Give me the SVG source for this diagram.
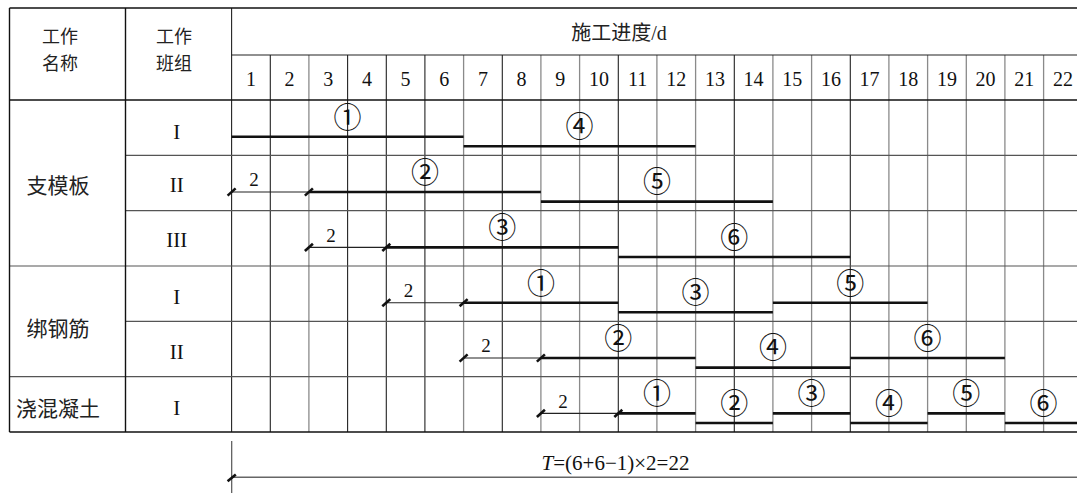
<svg xmlns="http://www.w3.org/2000/svg" width="1077" height="493" viewBox="0 0 1077 493">
<style>
.bd{stroke:#111;stroke-width:1.4;fill:none}
.gk{stroke:#222;stroke-width:1.1;fill:none}
.gg{stroke:#8a8a8a;stroke-width:1.3;fill:none}
.gh{stroke:#555;stroke-width:1.2;fill:none}
.bar{stroke:#111;stroke-width:2.6;fill:none}
.lead{stroke:#222;stroke-width:1.1;fill:none}
.tick{stroke:#111;stroke-width:2.6;fill:none}
.cn{font-family:"Noto Sans CJK SC",sans-serif;font-size:18px;fill:#222;text-anchor:middle}
.cn2{font-family:"Noto Sans CJK SC",sans-serif;font-size:21px;fill:#222;text-anchor:middle}
.num{font-family:"Liberation Serif",serif;font-size:20px;fill:#111;text-anchor:middle}
.rn{font-family:"Liberation Serif",serif;font-size:21px;fill:#111;text-anchor:middle}
.two{font-family:"Liberation Serif",serif;font-size:19px;fill:#111;text-anchor:middle}
.cir{font-family:"Liberation Serif","DejaVu Serif","Noto Sans CJK SC",serif;font-size:28px;fill:#111;text-anchor:middle;dominant-baseline:central}
</style>
<rect x="0" y="0" width="1077" height="493" fill="#fff"/>
<g id="grid">
  <g class="gk">
    <line x1="231.6" y1="8" x2="231.6" y2="432"/>
    <line x1="270.3" y1="55" x2="270.3" y2="432"/>
    <line x1="386.3" y1="55" x2="386.3" y2="432"/>
    <line x1="424.9" y1="55" x2="424.9" y2="432"/>
    <line x1="502.3" y1="55" x2="502.3" y2="432"/>
    <line x1="618.3" y1="55" x2="618.3" y2="432"/>
    <line x1="734.3" y1="55" x2="734.3" y2="432"/>
    <line x1="850.3" y1="55" x2="850.3" y2="432"/>
    <line x1="347.6" y1="55" x2="347.6" y2="432"/>
  </g>
  <g class="gg">
    <line x1="308.9" y1="55" x2="308.9" y2="432"/>
    <line x1="463.6" y1="55" x2="463.6" y2="432"/>
    <line x1="540.9" y1="55" x2="540.9" y2="432"/>
    <line x1="579.6" y1="55" x2="579.6" y2="432"/>
    <line x1="656.9" y1="55" x2="656.9" y2="432"/>
    <line x1="695.6" y1="55" x2="695.6" y2="432"/>
    <line x1="772.9" y1="55" x2="772.9" y2="432"/>
    <line x1="811.6" y1="55" x2="811.6" y2="432"/>
    <line x1="888.9" y1="55" x2="888.9" y2="432"/>
    <line x1="927.6" y1="55" x2="927.6" y2="432"/>
    <line x1="966.3" y1="55" x2="966.3" y2="432"/>
    <line x1="1004.9" y1="55" x2="1004.9" y2="432"/>
    <line x1="1043.6" y1="55" x2="1043.6" y2="432"/>
  </g>
  <g class="gh">
    <line x1="125.5" y1="155.3" x2="1077" y2="155.3"/>
    <line x1="125.5" y1="210.7" x2="1077" y2="210.7"/>
    <line x1="9.5" y1="266" x2="1077" y2="266"/>
    <line x1="125.5" y1="321.3" x2="1077" y2="321.3"/>
    <line x1="9.5" y1="376.7" x2="1077" y2="376.7"/>
  </g>
  <line class="gk" x1="231.6" y1="55" x2="1077" y2="55"/>
  <g class="bd">
    <line x1="9.5" y1="8" x2="1077" y2="8"/>
    <line x1="9.5" y1="8" x2="9.5" y2="432"/>
    <line x1="9.5" y1="432" x2="1077" y2="432"/>
    <line x1="9.5" y1="100" x2="1077" y2="100"/>
    <line x1="125.5" y1="8" x2="125.5" y2="432"/>
  </g>
</g>
<g id="header">
  <text class="cn"><tspan x="60" y="43">工作</tspan><tspan x="60" y="69.5">名称</tspan></text>
  <text class="cn"><tspan x="174" y="43">工作</tspan><tspan x="174" y="69.5">班组</tspan></text>
  <text x="619" y="40" text-anchor="middle" style="font-family:'Liberation Serif','Noto Sans CJK SC',serif;font-size:20px;fill:#222">施工进度/d</text>
  <g class="num">
    <text x="250.9" y="85.6">1</text>
    <text x="289.6" y="85.6">2</text>
    <text x="328.3" y="85.6">3</text>
    <text x="366.9" y="85.6">4</text>
    <text x="405.6" y="85.6">5</text>
    <text x="444.3" y="85.6">6</text>
    <text x="482.9" y="85.6">7</text>
    <text x="521.6" y="85.6">8</text>
    <text x="560.3" y="85.6">9</text>
    <text x="598.9" y="85.6">10</text>
    <text x="637.6" y="85.6">11</text>
    <text x="676.3" y="85.6">12</text>
    <text x="714.9" y="85.6">13</text>
    <text x="753.6" y="85.6">14</text>
    <text x="792.3" y="85.6">15</text>
    <text x="830.9" y="85.6">16</text>
    <text x="869.6" y="85.6">17</text>
    <text x="908.3" y="85.6">18</text>
    <text x="946.9" y="85.6">19</text>
    <text x="985.6" y="85.6">20</text>
    <text x="1024.3" y="85.6">21</text>
    <text x="1062.9" y="85.6">22</text>
  </g>
</g>
<g id="work-zhimoban"><text class="cn2" x="58" y="192.6">支模板</text></g>
<g id="work-bangganjin"><text class="cn2" x="58" y="336">绑钢筋</text></g>
<g id="work-jiaohunningtu"><text class="cn2" x="58" y="416">浇混凝土</text></g>
<g id="crews" class="rn">
  <text x="176.7" y="138.5">I</text>
  <text x="176.7" y="191.8">II</text>
  <text x="176.7" y="246.8">III</text>
  <text x="176.7" y="303.5">I</text>
  <text x="176.7" y="358.5">II</text>
  <text x="176.7" y="414.8">I</text>
</g>
<g id="connectors">
  <g class="lead">
    <line x1="231.6" y1="192" x2="308.9" y2="192"/>
    <line x1="308.9" y1="247.4" x2="386.3" y2="247.4"/>
    <line x1="386.3" y1="302.7" x2="463.6" y2="302.7"/>
    <line x1="463.6" y1="358" x2="540.9" y2="358"/>
    <line x1="540.9" y1="413.4" x2="618.3" y2="413.4"/>
    <line x1="231.6" y1="477.3" x2="1077" y2="477.3" style="stroke:#666;stroke-width:1.4"/>
    <line x1="231.7" y1="441" x2="231.7" y2="493" style="stroke:#555;stroke-width:1.2"/>
  </g>
  <g class="tick">
    <line x1="227.6" y1="195.6" x2="235.6" y2="188.4"/>
    <line x1="304.9" y1="195.6" x2="312.9" y2="188.4"/>
    <line x1="304.9" y1="251" x2="312.9" y2="243.8"/>
    <line x1="382.3" y1="251" x2="390.3" y2="243.8"/>
    <line x1="382.3" y1="306.3" x2="390.3" y2="299.1"/>
    <line x1="459.6" y1="306.3" x2="467.6" y2="299.1"/>
    <line x1="459.6" y1="361.6" x2="467.6" y2="354.4"/>
    <line x1="536.9" y1="361.6" x2="544.9" y2="354.4"/>
    <line x1="536.9" y1="417" x2="544.9" y2="409.8"/>
    <line x1="614.3" y1="417" x2="622.3" y2="409.8"/>
    <line x1="227.6" y1="481.2" x2="235.8" y2="474.6"/>
  </g>
  <g class="bar">
    <line x1="231.6" y1="136.7" x2="463.6" y2="136.7"/>
    <line x1="463.6" y1="146.3" x2="695.6" y2="146.3"/>
    <line x1="308.9" y1="192" x2="540.9" y2="192"/>
    <line x1="540.9" y1="201.6" x2="772.9" y2="201.6"/>
    <line x1="386.3" y1="247.4" x2="618.3" y2="247.4"/>
    <line x1="618.3" y1="257" x2="850.3" y2="257"/>
    <line x1="463.6" y1="302.7" x2="618.3" y2="302.7"/>
    <line x1="618.3" y1="312.3" x2="772.9" y2="312.3"/>
    <line x1="772.9" y1="302.7" x2="927.6" y2="302.7"/>
    <line x1="540.9" y1="358" x2="695.6" y2="358"/>
    <line x1="695.6" y1="367.6" x2="850.3" y2="367.6"/>
    <line x1="850.3" y1="358" x2="1004.9" y2="358"/>
    <line x1="618.3" y1="413.4" x2="695.6" y2="413.4"/>
    <line x1="695.6" y1="423" x2="772.9" y2="423"/>
    <line x1="772.9" y1="413.4" x2="850.3" y2="413.4"/>
    <line x1="850.3" y1="423" x2="927.6" y2="423"/>
    <line x1="927.6" y1="413.4" x2="1004.9" y2="413.4"/>
    <line x1="1004.9" y1="423" x2="1077" y2="423"/>
  </g>
</g>
<g id="lead-labels" class="two">
  <text x="254" y="186.3">2</text>
  <text x="331" y="241.7">2</text>
  <text x="408.5" y="297">2</text>
  <text x="486" y="352.3">2</text>
  <text x="563" y="407.7">2</text>
</g>
<g id="task-labels" class="cir">
  <text x="347.6" y="118">①</text>
  <text x="579.6" y="127.5">④</text>
  <text x="424.9" y="173.3">②</text>
  <text x="656.9" y="182.8">⑤</text>
  <text x="502.3" y="228.7">③</text>
  <text x="734.3" y="238.2">⑥</text>
  <text x="540.9" y="284">①</text>
  <text x="695.6" y="293.5">③</text>
  <text x="850.3" y="284">⑤</text>
  <text x="618.3" y="339.3">②</text>
  <text x="772.9" y="348.8">④</text>
  <text x="927.6" y="339.3">⑥</text>
  <text x="656.9" y="394.7">①</text>
  <text x="734.3" y="404.2">②</text>
  <text x="811.6" y="394.7">③</text>
  <text x="888.9" y="404.2">④</text>
  <text x="966.3" y="394.7">⑤</text>
  <text x="1043.6" y="404.2">⑥</text>
</g>
<g id="total">
  <text x="615.5" y="469.5" text-anchor="middle" style="font-family:'Liberation Serif',serif;font-size:21px;fill:#111"><tspan font-style="italic">T</tspan>=(6+6−1)×2=22</text>
</g>
</svg>
